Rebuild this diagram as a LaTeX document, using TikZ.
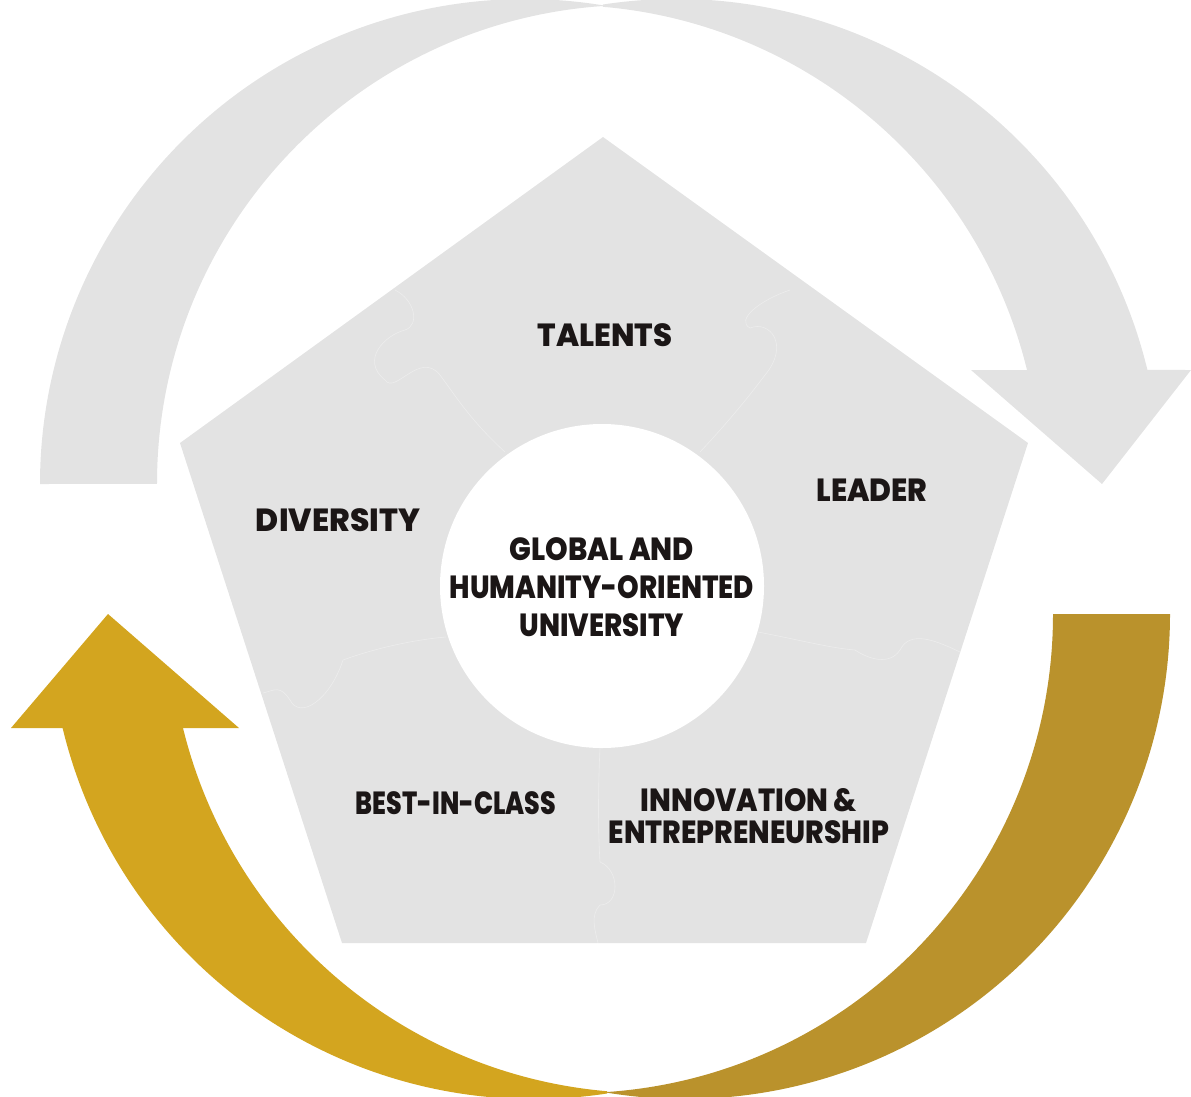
\documentclass[tikz,border=0pt]{standalone}
\usepackage{fontspec}
\setmainfont{Poppins}[BoldFont={* ExtraBold}]
\definecolor{lightgrey}{HTML}{E3E3E3}
\definecolor{goldA}{HTML}{D3A51F}
\definecolor{goldB}{HTML}{BA922C}
\definecolor{ink}{HTML}{1B1616}
\newcommand{\narrowtxt}[2][0.86]{\scalebox{#1}[1]{#2}}
\tikzset{
  label/.style={text=ink, font=\bfseries\fontsize{32}{36}\selectfont, anchor=base, inner sep=0pt},
  seam/.style={draw=white, line width=0.6pt, opacity=0.35}
}
\begin{document}
\begin{tikzpicture}[x=1pt,y=-1pt]
\useasboundingbox (0,0) rectangle (1191,1096);
% top grey circular arrow
\fill[lightgrey] (40,484) arc[start angle=180,end angle=279.25,radius=485] -- (603,6) arc[start angle=266.05,end angle=180,radius=479] -- cycle;
\fill[lightgrey] (603,4.5) arc[start angle=261.34,end angle=346.4,radius=485] -- (1191,370) -- (1102,484) -- (971,370) -- (1027,370) arc[start angle=346.23,end angle=274.91,radius=479] -- cycle;
% bottom gold circular arrow (rotated copy)
\begin{scope}[rotate around={180:(605,549)}]
\fill[goldB] (40,484) arc[start angle=180,end angle=279.25,radius=485] -- (603,6) arc[start angle=266.05,end angle=180,radius=479] -- cycle;
\fill[goldA] (603,4.5) arc[start angle=261.34,end angle=346.4,radius=485] -- (1199,370) -- (1102,484) -- (971,370) -- (1027,370) arc[start angle=346.23,end angle=274.91,radius=479] -- cycle;
\end{scope}
% pentagon
\fill[lightgrey] (603,137) -- (1028,443) -- (866,943) -- (342,943) -- (180,443) -- cycle;
% puzzle seams
\draw[seam] (505,452) .. controls (470,420) and (455,395) .. (440,375) .. controls (420,350) and (395,395) .. (385,380) .. controls (360,360) and (385,335) .. (405,330) .. controls (420,325) and (415,300) .. (395,290);
\draw[seam] (700,452) .. controls (730,420) and (750,395) .. (765,375) .. controls (790,345) and (770,320) .. (750,328) .. controls (735,320) and (760,300) .. (790,290);
\draw[seam] (758,632) .. controls (800,640) and (830,648) .. (855,650) .. controls (870,660) and (890,665) .. (900,650) .. controls (910,630) and (935,640) .. (960,652);
\draw[seam] (600,748) .. controls (598,790) and (598,830) .. (600,862) .. controls (620,870) and (620,905) .. (600,905) .. controls (590,915) and (595,930) .. (598,943);
\draw[seam] (446,637) .. controls (410,640) and (370,650) .. (343,660) .. controls (330,700) and (300,720) .. (290,700) .. controls (280,685) and (275,690) .. (263,693);
% centre circle
\fill[white] (602,586) circle[radius=162];
% texts
\node[label] (talents) at (605,346) {\narrowtxt[0.96]{TALENTS}};
\node[label] (leader) at (872,501) {\narrowtxt[0.93]{LEADER}};
\node[label] (diversity) at (338,531) {\narrowtxt[0.98]{DIVERSITY}};
\node[label] (best) at (456,814) {\narrowtxt[0.79]{BEST-IN-CLASS}};
\node[label] (innov) at (749,811) {\narrowtxt[0.89]{INNOVATION \&}};
\node[label] (entre) at (749,843) {\narrowtxt[0.88]{ENTREPRENEURSHIP}};
\node[label] (c1) at (602,560) {\narrowtxt[0.90]{GLOBAL AND}};
\node[label] (c2) at (602,598) {\narrowtxt{HUMANITY-ORIENTED}};
\node[label] (c3) at (602,636) {\narrowtxt{UNIVERSITY}};
\end{tikzpicture}
\end{document}
